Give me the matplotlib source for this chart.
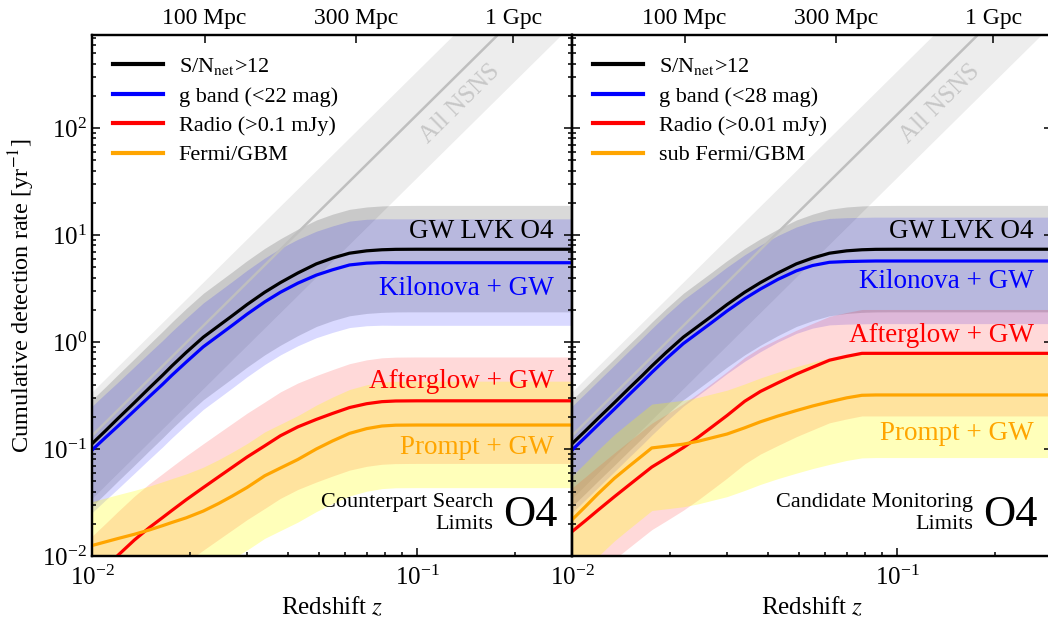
import numpy as np
import matplotlib
matplotlib.use("Agg")
import matplotlib.pyplot as plt
from matplotlib.ticker import LogLocator, NullFormatter

plt.rcParams['font.family'] = ['Liberation Serif', 'DejaVu Serif']
plt.rcParams['mathtext.fontset'] = 'stix'

# redshift grid shared by all curves
z = [0.0100, 0.0110, 0.0120, 0.0135, 0.0150, 0.0165, 0.0176, 0.0195, 0.0220,
     0.0245, 0.0270, 0.0300, 0.0340, 0.0380, 0.0430, 0.0490, 0.0550, 0.0620,
     0.0700, 0.0780, 0.0860, 0.1000, 0.1500, 0.3000]

# cumulative detection rates [1/yr]
gw_rate = [0.112, 0.148, 0.192, 0.271, 0.371, 0.490, 0.596, 0.800, 1.109,
           1.413, 1.758, 2.239, 2.917, 3.589, 4.416, 5.370, 6.095, 6.761,
           7.112, 7.278, 7.345, 7.362, 7.362, 7.362]
kn_rate_search = [0.0977, 0.128, 0.163, 0.228, 0.308, 0.403, 0.488, 0.650, 0.902,
                  1.148, 1.429, 1.820, 2.371, 2.917, 3.548, 4.217, 4.732, 5.248,
                  5.458, 5.521, 5.508, 5.508, 5.508, 5.508]
kn_rate_monitor = [0.0977, 0.129, 0.167, 0.236, 0.323, 0.427, 0.519, 0.697, 0.966,
                   1.230, 1.531, 1.950, 2.541, 3.126, 3.846, 4.624, 5.188, 5.559,
                   5.649, 5.689, 5.715, 5.715, 5.715, 5.715]
ag_rate_search = [0.00596, 0.00783, 0.0101, 0.0141, 0.0184, 0.0229, 0.0266, 0.0336, 0.0436,
                  0.0548, 0.0673, 0.0841, 0.107, 0.133, 0.161, 0.189, 0.215, 0.244,
                  0.265, 0.277, 0.281, 0.282, 0.282, 0.282]
ag_rate_monitor = [0.0169, 0.0214, 0.0267, 0.0358, 0.0462, 0.0581, 0.0678, 0.0820, 0.1030,
                   0.1294, 0.1614, 0.2056, 0.2793, 0.3451, 0.4150, 0.5012, 0.5808, 0.6761,
                   0.7345, 0.7834, 0.7834, 0.7834, 0.7834, 0.7834]
grb_rate_search = [0.01253, 0.01355, 0.01455, 0.01596, 0.01750, 0.01923, 0.02056, 0.02275, 0.0263,
                   0.0309, 0.0363, 0.0437, 0.0562, 0.0664, 0.0798, 0.100, 0.119, 0.140,
                   0.155, 0.164, 0.167, 0.1675, 0.1675, 0.1675]
grb_rate_monitor = [0.0218, 0.0290, 0.0379, 0.0532, 0.0692, 0.0873, 0.1023, 0.1062, 0.1109,
                    0.1183, 0.1274, 0.1380, 0.1578, 0.1795, 0.2032, 0.2286, 0.2523, 0.2761,
                    0.3006, 0.3177, 0.3199, 0.3199, 0.3199, 0.3199]

# all NSNS mergers (straight line in log-log)
z_nsns = [0.01, 0.30]
nsns_rate = [0.133, 3590.0]

# rate uncertainty factors (lower / upper)
rate_lo = 0.26
rate_hi = 2.57

# top axis: luminosity distance
dist_z = [0.0222, 0.0650, 0.198]
dist_labels = ['100 Mpc', '300 Mpc', '1 Gpc']

panels = [
    dict(kn=kn_rate_search, ag=ag_rate_search, grb=grb_rate_search,
         labels=[r'S/N$_{\rm net}$>12', 'g band (<22 mag)', 'Radio (>0.1 mJy)', 'Fermi/GBM'],
         note='Counterpart Search\nLimits',
         ypos=dict(gw=0.622, kn=0.514, ag=0.334, grb=0.209)),
    dict(kn=kn_rate_monitor, ag=ag_rate_monitor, grb=grb_rate_monitor,
         labels=[r'S/N$_{\rm net}$>12', 'g band (<28 mag)', 'Radio (>0.01 mJy)', 'sub Fermi/GBM'],
         note='Candidate Monitoring\nLimits',
         ypos=dict(gw=0.622, kn=0.526, ag=0.424, grb=0.236)),
]

fig = plt.figure(figsize=(10.48, 6.25), dpi=100)
W, H = 1048.0, 625.0
axes = [fig.add_axes([92 / W, 69 / H, 480 / W, 521 / H]),
        fig.add_axes([572 / W, 69 / H, 480 / W, 521 / H])]

zz = np.array(z)
for i, (ax, p) in enumerate(zip(axes, panels)):
    ax.set_xscale('log')
    ax.set_yscale('log')

    nz = np.array(z_nsns)
    nr = np.array(nsns_rate)
    ax.fill_between(nz, nr * rate_lo, nr * rate_hi, color='k', alpha=0.07, lw=0)
    ax.plot(nz, nr, color='0.75', lw=1.8)

    series = [(gw_rate, 'k', 0.15), (p['kn'], 'b', 0.15),
              (p['ag'], 'r', 0.15), (p['grb'], 'yellow', 0.27)]
    for rate, c, a in series:
        r = np.array(rate)
        ax.fill_between(zz, r * rate_lo, r * rate_hi, color=c, alpha=a, lw=0)

    line_cols = ['k', 'b', 'r', 'orange']
    for (rate, _, _), c, lab in zip(series, line_cols, p['labels']):
        ax.plot(zz, rate, color=c, lw=2.3, label=lab, zorder=5)

    ax.text(0.136, 167, 'All NSNS', color='0.78', fontsize=18, rotation=44.6,
            ha='center', va='center', rotation_mode='anchor')

    tx = 0.962
    ax.text(tx, p['ypos']['gw'], 'GW LVK O4', color='k', fontsize=19.5,
            ha='right', va='center', transform=ax.transAxes)
    ax.text(tx, p['ypos']['kn'], 'Kilonova + GW', color='b', fontsize=19.5,
            ha='right', va='center', transform=ax.transAxes)
    ax.text(tx, p['ypos']['ag'], 'Afterglow + GW', color='r', fontsize=19.5,
            ha='right', va='center', transform=ax.transAxes)
    ax.text(tx, p['ypos']['grb'], 'Prompt + GW', color='orange', fontsize=19.5,
            ha='right', va='center', transform=ax.transAxes)
    ax.text(0.835, 0.082, p['note'], color='k', fontsize=16, ha='right',
            va='center', multialignment='right', transform=ax.transAxes,
            linespacing=1.2)
    ax.text(0.97, 0.079, 'O4', color='k', fontsize=32, ha='right',
            va='center', transform=ax.transAxes)

    ax.set_xlim(0.01, 0.30)
    ax.set_ylim(0.01, 740)
    ax.set_xlabel(r'Redshift $z$', fontsize=18, labelpad=4)
    ax.yaxis.set_major_locator(LogLocator(base=10, numticks=10))
    ax.yaxis.set_minor_locator(LogLocator(base=10, subs=np.arange(2, 10), numticks=20))
    ax.yaxis.set_minor_formatter(NullFormatter())
    ax.xaxis.set_minor_formatter(NullFormatter())
    ax.tick_params(which='both', direction='in', labelsize=18, width=1.1,
                   top=False, right=True)
    ax.tick_params(axis='x', which='major', pad=7)
    ax.tick_params(which='major', length=6)
    ax.tick_params(which='minor', length=3)
    for s in ax.spines.values():
        s.set_linewidth(1.6)

    leg = ax.legend(loc='upper left', frameon=False, fontsize=16,
                    handlelength=2.25, handletextpad=0.7, labelspacing=0.4,
                    borderaxespad=0.55)
    for h in leg.get_lines():
        h.set_linewidth(3)

    top = ax.twiny()
    top.set_xscale('log')
    top.set_xlim(ax.get_xlim())
    top.set_xticks(dist_z)
    top.set_xticklabels(dist_labels)
    top.xaxis.set_minor_locator(plt.NullLocator())
    top.tick_params(direction='in', labelsize=17, length=6, width=1.1, pad=4)
    for s in top.spines.values():
        s.set_linewidth(1.6)

    if i == 0:
        ax.set_ylabel(r'Cumulative detection rate [yr$^{-1}$]', fontsize=17.5)
    else:
        ax.tick_params(labelleft=False)

fig.savefig('out.png', dpi=100)
